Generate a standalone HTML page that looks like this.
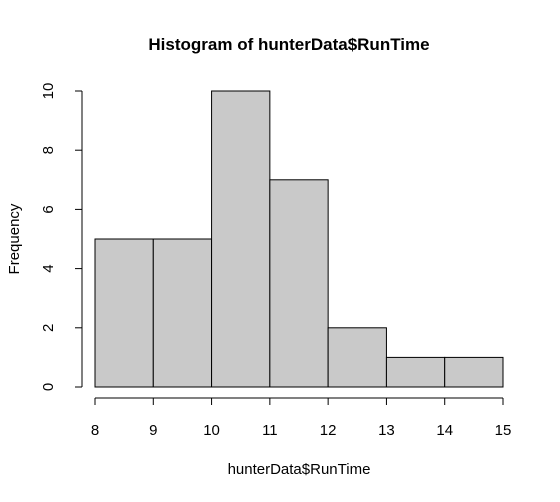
<!DOCTYPE html>
<html><head><style>
body{margin:0;background:#fff;}
svg text{font-family:"Liberation Sans",Arial,sans-serif;fill:#000;}
</style></head><body>
<svg id="chart" width="560" height="497">
<text x="289" y="50" font-size="17" font-weight="bold" text-anchor="middle">Histogram of hunterData$RunTime</text>
<text x="299" y="474" font-size="15" text-anchor="middle">hunterData$RunTime</text>
<text transform="translate(19,239) rotate(-90)" font-size="15" text-anchor="middle">Frequency</text>
<g id="bars"></g><g id="xaxis"></g><g id="yaxis"></g>
</svg>
<script>
const breaks=[8,9,10,11,12,13,14,15];
const counts=[5,5,10,7,2,1,1];
const xTicks=[8,9,10,11,12,13,14,15];
const yTicks=[0,2,4,6,8,10];
const NS="http://www.w3.org/2000/svg";
function x(v){return 95+(v-8)*(503-95)/7;}
function y(v){return 387-v*(387-91)/10;}
function mk(t,a,p){const e=document.createElementNS(NS,t);for(const k in a)e.setAttribute(k,a[k]);p.appendChild(e);return e;}
const bars=document.getElementById('bars');
counts.forEach((c,i)=>{
 const r=mk('rect',{x:x(breaks[i]),y:y(c),width:x(breaks[i+1])-x(breaks[i]),height:y(0)-y(c),fill:'#c9c9c9',stroke:'#000','stroke-width':1},bars);
 
 
});
const xa=document.getElementById('xaxis');
const xl=mk('line',{x1:x(xTicks[0]),x2:x(xTicks[xTicks.length-1]),y1:398,y2:398,stroke:'#000'},xa);


xTicks.forEach(t=>{
 mk('line',{x1:x(t),x2:x(t),y1:398,y2:405,stroke:'#000'},xa);
 const tx=mk('text',{x:x(t),y:435,'font-size':15,'text-anchor':'middle'},xa);
 tx.textContent=t;
 
 
});
const ya=document.getElementById('yaxis');
const yl=mk('line',{x1:82,x2:82,y1:y(yTicks[0]),y2:y(yTicks[yTicks.length-1]),stroke:'#000'},ya);


yTicks.forEach(t=>{
 mk('line',{x1:75,x2:82,y1:y(t),y2:y(t),stroke:'#000'},ya);
 const tx=mk('text',{transform:`translate(53,${y(t)}) rotate(-90)`,'font-size':15,'text-anchor':'middle'},ya);
 tx.textContent=t;
 
 
});
</script>
</body></html>
